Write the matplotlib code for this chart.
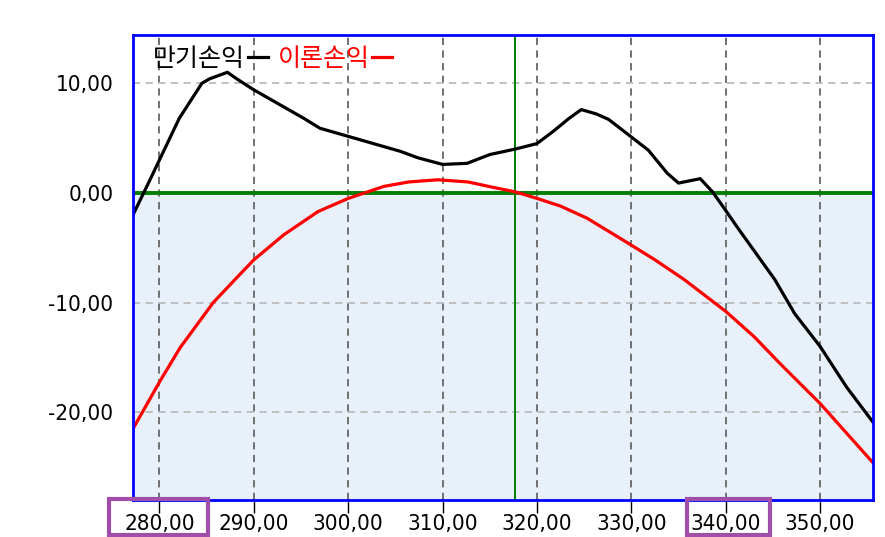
import matplotlib
matplotlib.use('Agg')
import matplotlib.pyplot as plt
from matplotlib.patches import Rectangle
from matplotlib.ticker import FuncFormatter

# 만기손익 (expiry P&L)
x_expiry = [277.2, 279.0, 282.1, 284.5, 285.3, 287.2, 288.2, 290.0, 295.3, 297.0,
            305.5, 307.4, 310.0, 312.6, 315.0, 317.7, 320.0, 321.7, 323.4, 324.7,
            326.3, 327.6, 330.0, 331.8, 333.8, 335.0, 337.3, 338.6, 340.0, 341.2,
            345.2, 347.3, 350.0, 352.8, 355.6]
y_expiry = [-2.0, 1.2, 6.8, 10.0, 10.4, 11.0, 10.4, 9.4, 6.8, 5.9,
            3.8, 3.2, 2.6, 2.7, 3.5, 4.0, 4.5, 5.6, 6.8, 7.6,
            7.2, 6.7, 5.1, 3.9, 1.8, 0.9, 1.3, 0.1, -1.6, -3.1,
            -7.9, -11.0, -14.0, -17.7, -20.9]

# 이론손익 (theoretical P&L)
x_theory = [277.2, 280.1, 282.2, 285.7, 288.0, 290.0, 293.2, 296.8, 300.0, 303.8,
            306.4, 309.5, 312.7, 315.4, 317.7, 320.0, 322.5, 325.3, 329.7, 332.5,
            335.6, 340.0, 343.0, 345.8, 350.0, 352.8, 355.6]
y_theory = [-21.5, -17.1, -14.1, -10.0, -7.9, -6.1, -3.8, -1.7, -0.5, 0.6,
            1.0, 1.2, 1.0, 0.5, 0.1, -0.5, -1.2, -2.3, -4.6, -6.1,
            -7.9, -10.8, -13.1, -15.6, -19.2, -21.9, -24.6]

x_ticks = [280, 290, 300, 310, 320, 330, 340, 350]
y_ticks = [-20, -10, 0, 10]
current_price = 317.7
# highlighted tick labels: (left, right) in price units
boxes = [(274.65, 285.14), (335.93, 344.7)]

x_range = (277.2, 355.6)
y_range = (-28.0, 14.4)

kr_font = ['Noto Sans CJK KR', 'DejaVu Sans']

fig = plt.figure(figsize=(8.85, 5.37), dpi=100)
ax = fig.add_axes([0.1503, 0.0689, 0.8361, 0.8659])

ax.axhspan(y_range[0], 0, color='#e8f0fa', zorder=0)
for xv in x_ticks:
	ax.axvline(xv, color='#666666', lw=1.3, ls=(0, (4, 3)), zorder=1)
for yv in y_ticks:
	ax.axhline(yv, color='#bbbbbb', lw=1.3, ls=(0, (4, 3)), zorder=1)
ax.axhline(0, color='#007f00', lw=2.8, zorder=2)
ax.axvline(current_price, color='#008000', lw=1.4, zorder=2)

ax.plot(x_expiry, y_expiry, color='black', lw=2.3, zorder=3, label='만기손익')
ax.plot(x_theory, y_theory, color='#ff0000', lw=2.3, zorder=3, label='이론손익')

ax.set_xlim(*x_range)
ax.set_ylim(*y_range)
ax.set_xticks(x_ticks)
ax.set_yticks(y_ticks)
fmt = FuncFormatter(lambda v, p: ('%.2f' % v).replace('.', ','))
ax.xaxis.set_major_formatter(fmt)
ax.yaxis.set_major_formatter(fmt)
ax.tick_params(axis='x', direction='out', length=9, width=1, pad=1,
			   labelsize=16, color='black')
ax.tick_params(axis='y', length=0, pad=14, labelsize=16)
for lab in ax.get_xticklabels() + ax.get_yticklabels():
	lab.set_family('DejaVu Sans')
	lab.set_stretch('condensed')

for sp in ax.spines.values():
	sp.set_color('#0000ff')
	sp.set_linewidth(2)
	sp.set_zorder(5)

leg = ax.legend(loc='upper left', bbox_to_anchor=(0.014, 0.998), ncol=2,
				markerfirst=False, frameon=False, handlelength=0.8,
				handletextpad=0.1, columnspacing=0.4, borderaxespad=0,
				prop={'family': kr_font, 'size': 18})
leg.get_texts()[1].set_color('#ff0000')

for x0, x1 in boxes:
	ax.add_patch(Rectangle((x0, -0.075), x1 - x0, 0.077,
						   transform=ax.get_xaxis_transform(), fill=False,
						   edgecolor='#a04fa8', lw=3, clip_on=False, zorder=6))

fig.savefig('out.png', dpi=100)
plt.close(fig)
